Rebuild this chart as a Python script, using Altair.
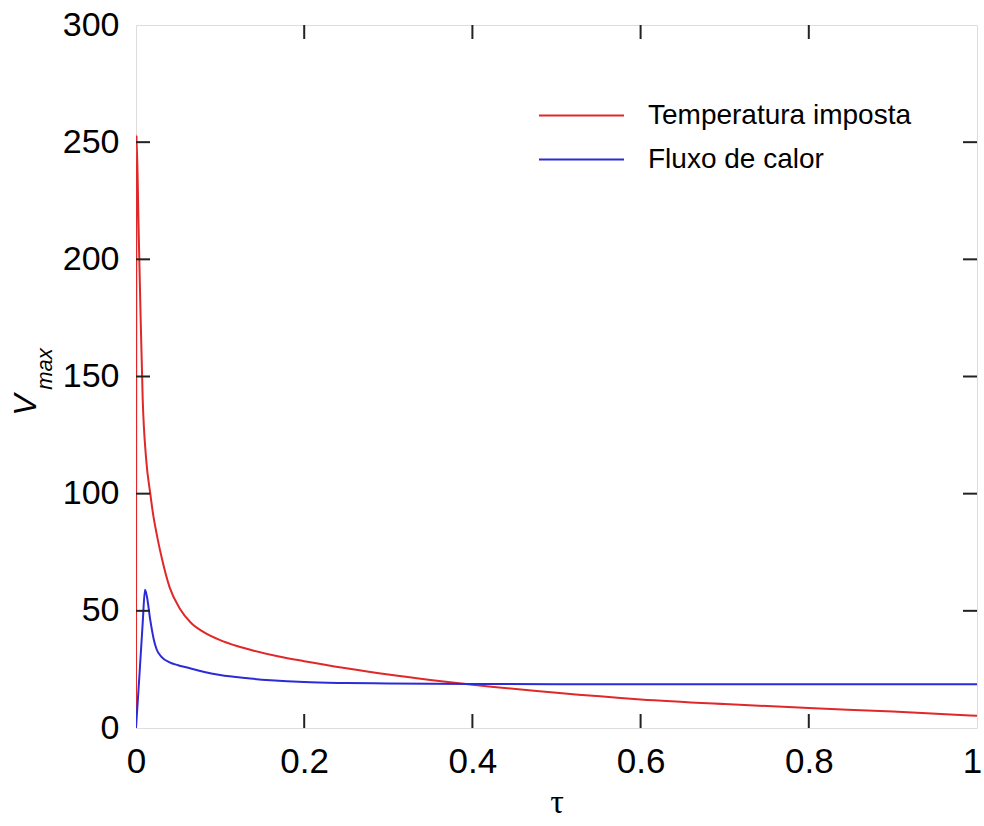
import altair as alt
import pandas as pd

# Temperatura imposta (red)
red_tau = [0, 0.0006, 0.003, 0.005, 0.008, 0.012, 0.017, 0.02, 0.025, 0.031, 0.04,
           0.052, 0.065, 0.08, 0.1, 0.12, 0.14, 0.17, 0.2, 0.25, 0.3, 0.35, 0.4,
           0.5, 0.6, 0.7, 0.8, 0.9, 1.0]
red_v = [0, 253, 215, 183, 140, 115, 100, 92, 82, 72, 60,
         51, 45, 41, 37.5, 35, 33, 30.5, 28.5, 25.5, 22.8, 20.5, 18.5,
         15, 12.2, 10.2, 8.5, 7, 5.2]

# Fluxo de calor (blue)
blue_tau = [0, 0.004, 0.008, 0.0107, 0.013, 0.017, 0.021, 0.0246, 0.03, 0.04, 0.05,
            0.061, 0.08, 0.1, 0.13, 0.16, 0.2, 0.25, 0.3, 0.4, 0.5, 0.6, 0.8, 1.0]
blue_v = [0, 22, 45, 59, 56, 46, 38, 33.5, 30.5, 28, 26.8,
          25.8, 24, 22.6, 21.3, 20.4, 19.6, 19.2, 19, 18.8, 18.7, 18.7, 18.7, 18.7]

series_names = ["Temperatura imposta", "Fluxo de calor"]
series_colors = ["#e02828", "#2b2bd8"]

x_ticks = [0, 0.2, 0.4, 0.6, 0.8, 1]
y_ticks = [0, 50, 100, 150, 200, 250, 300]
x_inner_ticks = [0.2, 0.4, 0.6, 0.8]
y_inner_ticks = [50, 100, 150, 200, 250]

W, H = 841, 703
FONT = "Liberation Sans"

df = pd.concat([
    pd.DataFrame({"tau": red_tau, "v": red_v, "serie": series_names[0], "o": range(len(red_tau))}),
    pd.DataFrame({"tau": blue_tau, "v": blue_v, "serie": series_names[1], "o": range(len(blue_tau))}),
])

xscale = alt.Scale(domain=[0, 1], nice=False, zero=False)
yscale = alt.Scale(domain=[0, 300], nice=False)

lines = alt.Chart(df).mark_line(strokeWidth=2, clip=True, interpolate="monotone").encode(
    x=alt.X("tau:Q", scale=xscale,
            axis=alt.Axis(values=x_ticks, title="τ", tickSize=0, domain=False, grid=False,
                          labelFlush=False, labelOverlap=False,
                          labelOffset=alt.ExprRef("datum.value == 1 ? -5 : 0"),
                          labelFont=FONT, labelFontSize=35, labelColor="black",
                          labelPadding=16, labelExpr="datum.value == 0 ? '0' : datum.value == 1 ? '1' : format(datum.value, '.1f')",
                          titleFont="Liberation Serif", titleFontSize=34, titleFontWeight="normal",
                          titleColor="black", titlePadding=6)),
    y=alt.Y("v:Q", scale=yscale,
            axis=alt.Axis(values=y_ticks, title=None, tickSize=0, domain=False, grid=False,
                          labelFlush=False, labelOverlap=False,
                          labelFont=FONT, labelFontSize=34, labelColor="black", labelPadding=17)),
    color=alt.Color("serie:N", scale=alt.Scale(domain=series_names, range=series_colors),
                    legend=alt.Legend(title=None, orient="none", legendX=430, legendY=75,
                                      symbolType="M-3,0L3,0", symbolSize=803, symbolStrokeWidth=2,
                                      labelFont=FONT, labelFontSize=28, labelColor="black",
                                      labelLimit=0, labelOffset=51, rowPadding=14)),
    order="o:Q",
)

xt = pd.DataFrame({"t": x_inner_ticks})
yt = pd.DataFrame({"t": y_inner_ticks})
TL = 14
xb = alt.Chart(xt).mark_rule(color="#222", strokeWidth=2).encode(
    x=alt.X("t:Q", scale=xscale), y=alt.value(H), y2=alt.value(H - TL))
xtp = alt.Chart(xt).mark_rule(color="#222", strokeWidth=2).encode(
    x=alt.X("t:Q", scale=xscale), y=alt.value(0), y2=alt.value(TL))
yl = alt.Chart(yt).mark_rule(color="#222", strokeWidth=2).encode(
    y=alt.Y("t:Q", scale=yscale), x=alt.value(0), x2=alt.value(TL))
yr = alt.Chart(yt).mark_rule(color="#222", strokeWidth=2).encode(
    y=alt.Y("t:Q", scale=yscale), x=alt.value(W - TL), x2=alt.value(W))

vt = alt.Chart(pd.DataFrame({"s": ["V"]})).mark_text(
    font=FONT, fontSize=32, fontStyle="italic", angle=270, align="center", baseline="middle",
    color="black").encode(text="s:N", x=alt.value(-110), y=alt.value(380))
mt = alt.Chart(pd.DataFrame({"s": ["max"]})).mark_text(
    font=FONT, fontSize=22, fontStyle="italic", angle=270, align="center", baseline="middle",
    color="black").encode(text="s:N", x=alt.value(-91), y=alt.value(344))

chart = alt.layer(lines, xb, xtp, yl, yr, vt, mt).properties(
    width=W, height=H,
    autosize=alt.AutoSizeParams(type="none"),
    padding={"left": 136, "top": 25, "right": 7, "bottom": 98},
).configure_view(stroke="#333", strokeWidth=2).configure(background="white")

chart.save("out.html", embed_options={"renderer": "svg", "actions": False})
